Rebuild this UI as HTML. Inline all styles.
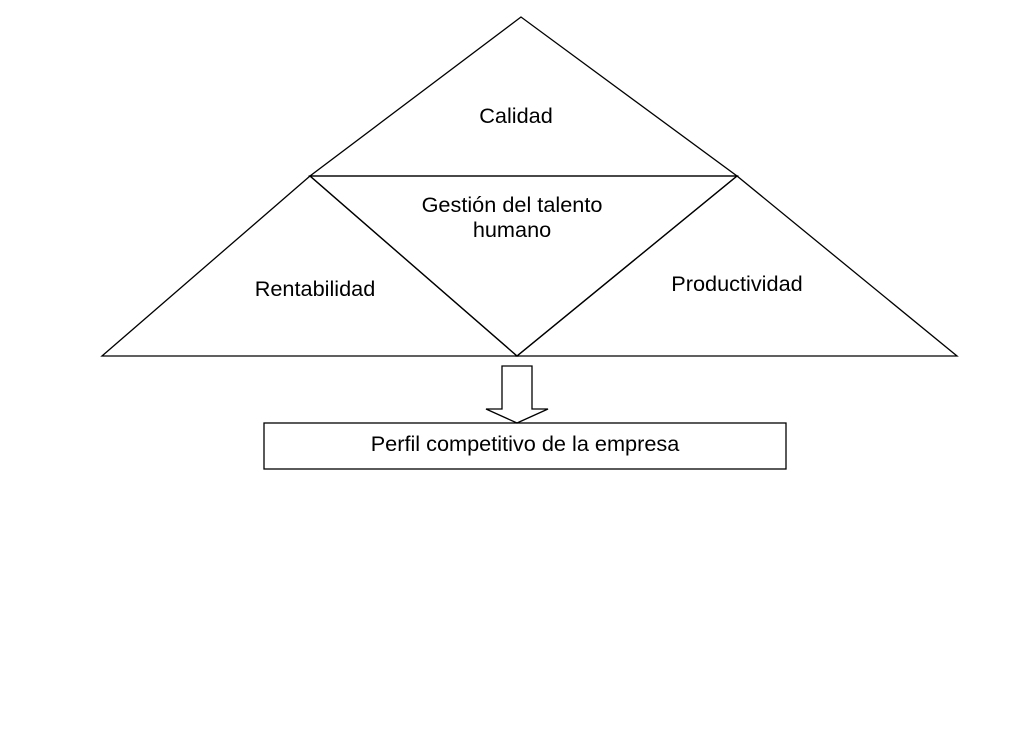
<!DOCTYPE html>
<html><head><meta charset="utf-8"><style>
html,body{margin:0;padding:0;background:#fff;}
</style></head><body>
<svg width="1015" height="743" xmlns="http://www.w3.org/2000/svg" style="display:block">
<g fill="none" stroke="#000" stroke-width="1.3">
<polygon points="521,17 310,176 737,176"/>
<polygon points="310,176 102,356 517,356"/>
<polygon points="310,176 737,176 517,356"/>
<polygon points="737,176 517,356 957,356"/>
<polygon points="502,366 532,366 532,409 548,409 517,423 486,409 502,409"/>
<rect x="264" y="423" width="522" height="46"/>
</g>
<g font-family="Liberation Sans, Arial, sans-serif" font-size="21.7" fill="#000" text-anchor="middle">
<text x="516" y="123">Calidad</text>
<text x="512" y="212">Gestión del talento</text>
<text x="512" y="237">humano</text>
<text x="315" y="296">Rentabilidad</text>
<text x="737" y="291">Productividad</text>
<text x="525" y="451">Perfil competitivo de la empresa</text>
</g>
</svg>
</body></html>
